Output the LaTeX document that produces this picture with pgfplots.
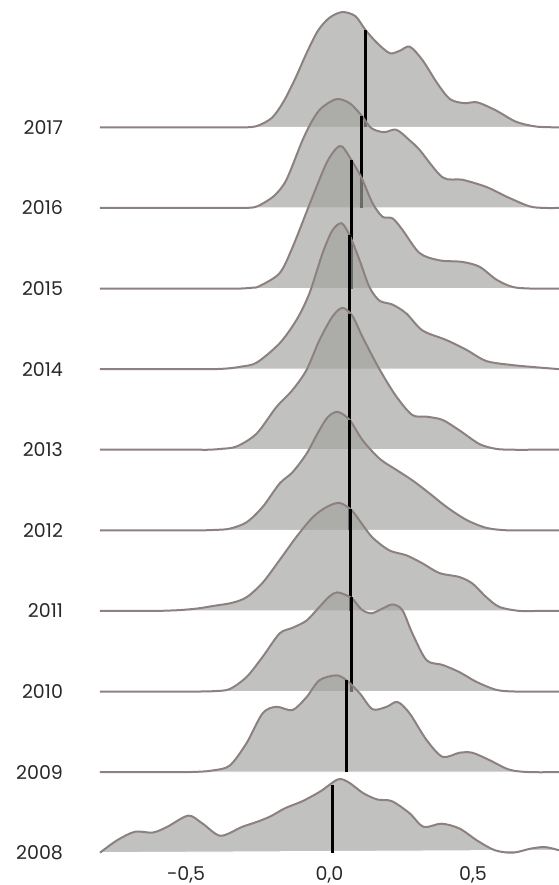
\documentclass[border=0pt]{standalone}
\usepackage{fontspec}
\setmainfont{Poppins}
\usepackage{pgfplots}
\usepackage{pgfplotstable}
\pgfplotsset{compat=1.18}
\definecolor{rfill}{RGB}{161,161,158}
\definecolor{rline}{RGB}{140,128,128}
\definecolor{labc}{RGB}{40,40,40}

\pgfplotstableread{
x h
-0.80 0
-0.70 0
-0.60 0
-0.50 0
-0.40 0
-0.34 0
-0.29 0
-0.25 0.02
-0.20 0.12
-0.16 0.32
-0.12 0.60
-0.08 0.92
-0.04 1.20
0.00 1.36
0.045 1.43
0.09 1.38
0.125 1.21
0.165 1.05
0.21 0.92
0.245 0.95
0.28 1.00
0.325 0.83
0.375 0.55
0.42 0.35
0.47 0.30
0.515 0.31
0.58 0.21
0.65 0.07
0.72 0.01
0.80 0
}\tA
\pgfplotstableread{
x h
-0.80 0
-0.70 0
-0.60 0
-0.50 0
-0.42 0
-0.34 0
-0.30 0
-0.26 0.01
-0.23 0.06
-0.19 0.16
-0.15 0.35
-0.094 0.84
-0.059 1.09
-0.028 1.24
0.024 1.35
0.07 1.30
0.111 1.15
0.146 0.99
0.19 0.94
0.233 0.97
0.279 0.84
0.314 0.72
0.394 0.38
0.463 0.35
0.547 0.26
0.617 0.14
0.697 0.02
0.75 0
0.80 0
}\tB
\pgfplotstableread{
x h
-0.80 0
-0.70 0
-0.60 0
-0.50 0
-0.42 0
-0.35 0
-0.31 0
-0.27 0.01
-0.244 0.03
-0.174 0.19
-0.129 0.51
-0.059 1.14
-0.010 1.56
0.024 1.74
0.045 1.76
0.077 1.59
0.111 1.38
0.150 1.06
0.185 0.89
0.220 0.87
0.254 0.73
0.314 0.44
0.383 0.35
0.463 0.33
0.523 0.27
0.582 0.11
0.638 0.02
0.70 0
0.80 0
}\tC
\pgfplotstableread{
x h
-0.80 0
-0.70 0
-0.60 0
-0.50 0
-0.45 0
-0.40 0
-0.35 0.01
-0.31 0.03
-0.254 0.08
-0.174 0.32
-0.115 0.61
-0.070 0.94
-0.024 1.44
0.010 1.72
0.042 1.81
0.070 1.66
0.105 1.35
0.139 1.02
0.174 0.85
0.220 0.80
0.268 0.69
0.324 0.48
0.408 0.36
0.477 0.24
0.547 0.10
0.638 0.05
0.73 0.02
0.80 0
}\tD
\pgfplotstableread{
x h
-0.80 0
-0.70 0
-0.60 0
-0.52 0
-0.46 0
-0.42 0
-0.38 0.01
-0.324 0.04
-0.254 0.20
-0.185 0.53
-0.129 0.74
-0.080 0.99
-0.035 1.36
0.010 1.65
0.045 1.76
0.080 1.66
0.115 1.40
0.174 1.00
0.233 0.66
0.289 0.43
0.338 0.41
0.394 0.37
0.453 0.24
0.523 0.07
0.582 0.01
0.64 0
0.72 0
0.80 0
}\tE
\pgfplotstableread{
x h
-0.80 0
-0.70 0
-0.60 0
-0.52 0
-0.48 0
-0.44 0
-0.40 0.005
-0.348 0.02
-0.289 0.10
-0.233 0.29
-0.174 0.58
-0.129 0.72
-0.080 0.95
-0.042 1.20
-0.007 1.40
0.028 1.47
0.070 1.37
0.115 1.12
0.174 0.89
0.233 0.75
0.289 0.62
0.348 0.46
0.408 0.29
0.477 0.13
0.547 0.03
0.62 0
0.70 0
0.80 0
}\tF
\pgfplotstableread{
x h
-0.80 0
-0.72 0
-0.66 0
-0.60 0
-0.523 0.01
-0.46 0.03
-0.408 0.06
-0.34 0.10
-0.289 0.17
-0.233 0.35
-0.174 0.63
-0.115 0.92
-0.059 1.16
-0.010 1.29
0.035 1.34
0.077 1.25
0.111 1.09
0.150 0.91
0.209 0.75
0.268 0.69
0.324 0.59
0.383 0.47
0.453 0.42
0.498 0.34
0.547 0.17
0.592 0.05
0.662 0
0.73 0
0.80 0
}\tG
\pgfplotstableread{
x h
-0.80 0
-0.70 0
-0.62 0
-0.55 0
-0.50 0
-0.45 0
-0.40 0.005
-0.348 0.03
-0.289 0.18
-0.233 0.43
-0.174 0.72
-0.129 0.79
-0.080 0.88
-0.035 1.05
0.0 1.18
0.028 1.23
0.077 1.16
0.111 1.02
0.146 0.97
0.185 1.03
0.220 1.08
0.254 1.01
0.289 0.72
0.338 0.39
0.394 0.33
0.453 0.24
0.512 0.12
0.582 0.02
0.645 0
0.72 0
0.80 0
}\tH
\pgfplotstableread{
x h
-0.80 0
-0.72 0
-0.66 0
-0.60 0
-0.55 0
-0.50 0
-0.453 0.005
-0.408 0.02
-0.348 0.08
-0.289 0.36
-0.233 0.73
-0.185 0.81
-0.129 0.77
-0.080 0.93
-0.035 1.14
0.024 1.20
0.059 1.14
0.105 0.98
0.150 0.78
0.199 0.81
0.237 0.87
0.279 0.73
0.338 0.40
0.394 0.19
0.453 0.24
0.498 0.24
0.557 0.15
0.627 0.03
0.697 0
0.80 0
}\tI
\pgfplotstableread{
x h
-0.80 0
-0.74 0.155
-0.678 0.26
-0.616 0.25
-0.566 0.32
-0.492 0.46
-0.442 0.36
-0.380 0.21
-0.305 0.32
-0.255 0.38
-0.206 0.45
-0.156 0.55
-0.094 0.64
-0.032 0.76
0.030 0.91
0.068 0.87
0.117 0.74
0.167 0.66
0.217 0.64
0.279 0.49
0.328 0.32
0.390 0.36
0.453 0.30
0.515 0.15
0.577 0.03
0.639 0.0
0.701 0.05
0.751 0.07
0.80 0.03
}\tJ

\newcommand{\ridge}[4]{%
  \addplot[smooth, fill=rfill, fill opacity=0.66, draw=white, line width=0.5pt]
    table[x=x, y expr=\thisrow{h}+#2] {#1} -- cycle;
  \addplot[smooth, draw=rline, line width=1pt]
    table[x=x, y expr=\thisrow{h}+#2] {#1};
  \addplot[black, line width=1.5pt] coordinates {#3 #4};
}

\begin{document}
\begin{tikzpicture}
\begin{axis}[
  scale only axis,
  width=229.5pt, height=426.35pt,
  xmin=-0.8, xmax=0.8, ymin=0, ymax=10.58,
  axis line style={draw=none},
  tick style={draw=none},
  major tick length=0pt,
  xtick={-0.5,0,0.5},
  xticklabels={{-0,5},{0,0},{0,5}},
  ytick={0,1,2,3,4,5,6,7,8,9},
  yticklabels={2008,2009,2010,2011,2012,2013,2014,2015,2016,2017},
  tick label style={font=\fontsize{9.5}{11}\selectfont, text=labc},
  xticklabel style={yshift=-3.2pt},
  yticklabel style={xshift=-15pt},
  clip=false,
]
\ridge{\tA}{9}{(0.125,9)}{(0.125,10.21)}
\ridge{\tB}{8}{(0.111,8)}{(0.111,9.14)}
\ridge{\tC}{7}{(0.077,7)}{(0.077,8.59)}
\ridge{\tD}{6}{(0.070,6)}{(0.070,7.66)}
\ridge{\tE}{5}{(0.070,5)}{(0.070,6.68)}
\ridge{\tF}{4}{(0.070,4)}{(0.070,5.37)}
\ridge{\tG}{3}{(0.072,3)}{(0.072,4.27)}
\ridge{\tH}{2}{(0.075,2)}{(0.075,3.17)}
\ridge{\tI}{1}{(0.058,1)}{(0.058,2.14)}
\ridge{\tJ}{0}{(0.010,0)}{(0.010,0.84)}
\end{axis}
\pgfresetboundingbox
\path (current axis.south west) ++(-50pt,-16.15pt) rectangle (current axis.north east);
\end{tikzpicture}
\end{document}
